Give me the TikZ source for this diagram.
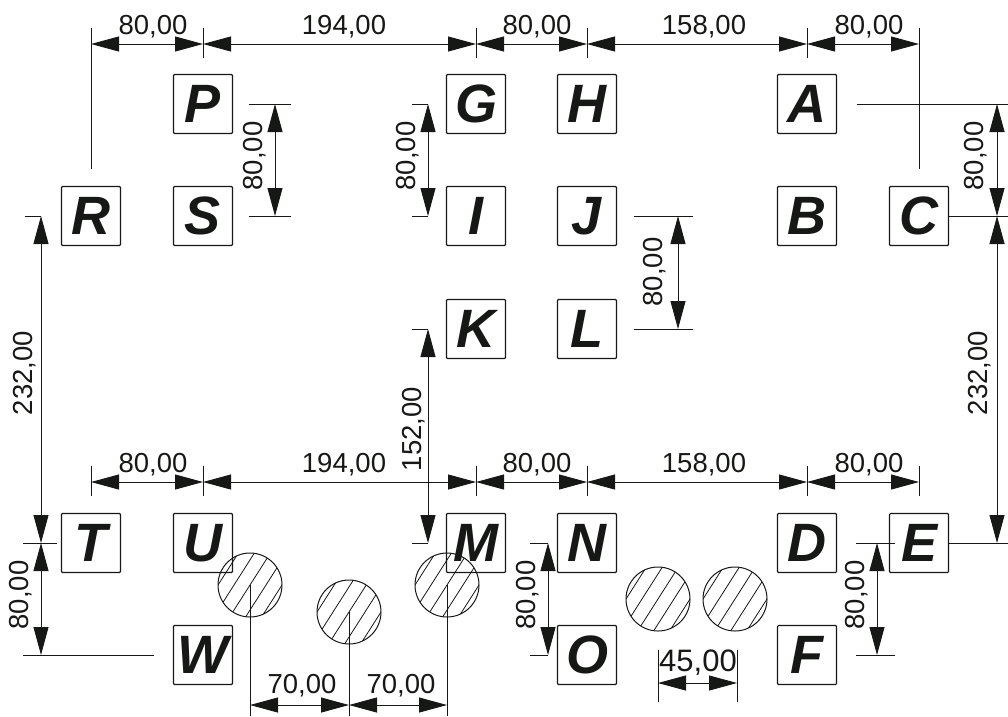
\documentclass[tikz,border=0pt]{standalone}
\usepackage{fontspec}
\setmainfont{Liberation Sans}
\usetikzlibrary{arrows.meta}
\definecolor{ink}{HTML}{161816}
\tikzset{
  x=1pt,y=-1pt,
  letterbox/.style={draw=ink,line width=1.1pt,rounded corners=1pt,minimum size=59pt,inner sep=0pt,text=ink,font=\fontsize{54}{54}\selectfont\bfseries\itshape},
  dimtext/.style={inner sep=0pt,text=ink,font=\fontsize{27.5}{27.5}\selectfont},
  vdimtext/.style={dimtext,rotate=90},
  extline/.style={draw=ink,line width=0.9pt},
  dimline/.style={draw=ink,line width=0.9pt,{Triangle[length=28pt,width=15pt]}-{Triangle[length=28pt,width=15pt]}},
  rod/.style={draw=ink,line width=1pt},
  hatchline/.style={draw=ink,line width=0.8pt}
}
\newcommand{\hatchrod}[3]{%
  \coordinate (#1) at (#2,#3);
  \begin{scope}
    \clip (#1) circle[radius=32];
    \foreach \k in {-2,...,2}{
      \draw[hatchline] ([xshift=\k*16pt-30pt,yshift=-47pt]#1) -- ([xshift=\k*16pt+30pt,yshift=47pt]#1);
    }
  \end{scope}
  \draw[rod] (#1) circle[radius=32];
}
\begin{document}
\begin{tikzpicture}
\useasboundingbox (0,0) rectangle (1008,716);
\foreach \n/\l/\cx/\cy in {R/R/91/216,S/S/203/216,P/P/203/104,G/G/476/104,H/H/587/104,A/A/807/104,I/I/476/216,J/J/587/216,B/B/807/216,C/C/919/216,K/K/476/329,L/L/587/329,T/T/91/543,U/U/203/543,M/M/476/543,N/N/587/543,D/D/807/543,E/E/919/543,W/W/203/655,O/O/587/655,F/F/807/655}{
  \node[letterbox] (\n) at (\cx,\cy) {\l};
}
\hatchrod{r1}{250}{585}
\hatchrod{r2}{349}{612}
\hatchrod{r3}{447}{585}
\hatchrod{r4}{658}{599}
\hatchrod{r5}{735}{599}
% top chain
\foreach \n/\cx in {a/91,b/203,c/476,d/587,e/807,f/919}{
  \coordinate (t\n) at (\cx,44);
  \coordinate (m\n) at (\cx,482);
}
\draw[extline] (ta) ++(0,-16) -- (91,169);
\draw[extline] (tb) ++(0,-16) -- (203,58);
\draw[extline] (tc) ++(0,-16) -- (476,58);
\draw[extline] (td) ++(0,-16) -- (587,58);
\draw[extline] (te) ++(0,-16) -- (807,58);
\draw[extline] (tf) ++(0,-16) -- (919,169);
\draw[extline] (ma) ++(0,-16) -- (91,496);
\draw[extline] (mb) ++(0,-16) -- (203,496);
\draw[extline] (mc) ++(0,-16) -- (476,496);
\draw[extline] (md) ++(0,-16) -- (587,496);
\draw[extline] (me) ++(0,-16) -- (807,496);
\draw[extline] (mf) ++(0,-16) -- (919,496);
\foreach \r in {t,m}{
  \draw[dimline] (\r a) -- (\r b);
  \draw[dimline] (\r b) -- (\r c);
  \draw[dimline] (\r c) -- (\r d);
  \draw[dimline] (\r d) -- (\r e);
  \draw[dimline] (\r e) -- (\r f);
}
\node[dimtext] (ta1) at (153,27) {80,00};
\node[dimtext] (ta2) at (344,27) {194,00};
\node[dimtext] (ta3) at (537,27) {80,00};
\node[dimtext] (ta4) at (704,27) {158,00};
\node[dimtext] (ta5) at (869,27) {80,00};
\node[dimtext] (ma1) at (153,465) {80,00};
\node[dimtext] (ma2) at (344,465) {194,00};
\node[dimtext] (ma3) at (537,465) {80,00};
\node[dimtext] (ma4) at (704,465) {158,00};
\node[dimtext] (ma5) at (869,465) {80,00};
% vertical dimensions
\coordinate (v1a) at (275,104); \coordinate (v1b) at (275,216);
\draw[extline] (249,104) -- (291,104); \draw[extline] (249,216) -- (291,216);
\draw[dimline] (v1a) -- (v1b);
\node[vdimtext] (v1t) at (255,156) {80,00};
\coordinate (v2a) at (428,104); \coordinate (v2b) at (428,216);
\draw[extline] (412,104) -- (v2a); \draw[extline] (412,216) -- (v2b);
\draw[dimline] (v2a) -- (v2b);
\node[vdimtext] (v2t) at (408,156) {80,00};
\coordinate (v3a) at (678,216); \coordinate (v3b) at (678,329);
\draw[extline] (634,216) -- (693,216); \draw[extline] (634,329) -- (693,329);
\draw[dimline] (v3a) -- (v3b);
\node[vdimtext] (v3t) at (655,272) {80,00};
\coordinate (v4a) at (41,216); \coordinate (v4b) at (41,543); \coordinate (v4c) at (41,655);
\draw[extline] (25,216) -- (v4a); \draw[extline] (23,543) -- (57,543); \draw[extline] (23,655) -- (154,655);
\draw[dimline] (v4a) -- (v4b);
\draw[dimline] (v4b) -- (v4c);
\node[vdimtext] (v4t) at (25,373) {232,00};
\node[vdimtext] (v5t) at (21,595) {80,00};
\coordinate (v6a) at (428,329); \coordinate (v6b) at (428,543);
\draw[extline] (412,329) -- (v6a); \draw[extline] (412,543) -- (v6b);
\draw[dimline] (v6a) -- (v6b);
\node[vdimtext] (v6t) at (414,429) {152,00};
\coordinate (v7a) at (548,543); \coordinate (v7b) at (548,655);
\draw[extline] (530,543) -- (v7a); \draw[extline] (530,655) -- (v7b);
\draw[dimline] (v7a) -- (v7b);
\node[vdimtext] (v7t) at (528,595) {80,00};
\coordinate (v8a) at (877,543); \coordinate (v8b) at (877,655);
\draw[extline] (856,543) -- (895,543); \draw[extline] (856,655) -- (895,655);
\draw[dimline] (v8a) -- (v8b);
\node[vdimtext] (v8t) at (857,595) {80,00};
\coordinate (v9a) at (997,104); \coordinate (v9b) at (997,216); \coordinate (v9c) at (997,543);
\draw[extline] (857,104) -- (1008,104); \draw[extline] (C.east) -- (1008,216); \draw[extline] (E.east) -- (1008,543);
\draw[dimline] (v9a) -- (v9b);
\draw[dimline] (v9b) -- (v9c);
\node[vdimtext] (v9t) at (976,156) {80,00};
\node[vdimtext] (v10t) at (980,373) {232,00};
% bottom dimensions
\coordinate (h1) at (250,705); \coordinate (h2) at (349,705); \coordinate (h3) at (447,705);
\draw[extline] (r1) -- (250,716); \draw[extline] (r2) -- (349,716); \draw[extline] (r3) -- (447,716);
\draw[dimline] (h1) -- (h2);
\draw[dimline] (h2) -- (h3);
\node[dimtext] (h1t) at (302,686) {70,00};
\node[dimtext] (h2t) at (401,686) {70,00};
\coordinate (h4) at (658,683); \coordinate (h5) at (737,683);
\draw[extline] (658,650) -- (658,702); \draw[extline] (737,650) -- (737,702);
\draw[dimline] (h4) -- (h5);
\node[dimtext,font=\fontsize{31}{31}\selectfont] (h4t) at (698,663) {45,00};
\end{tikzpicture}
\end{document}
